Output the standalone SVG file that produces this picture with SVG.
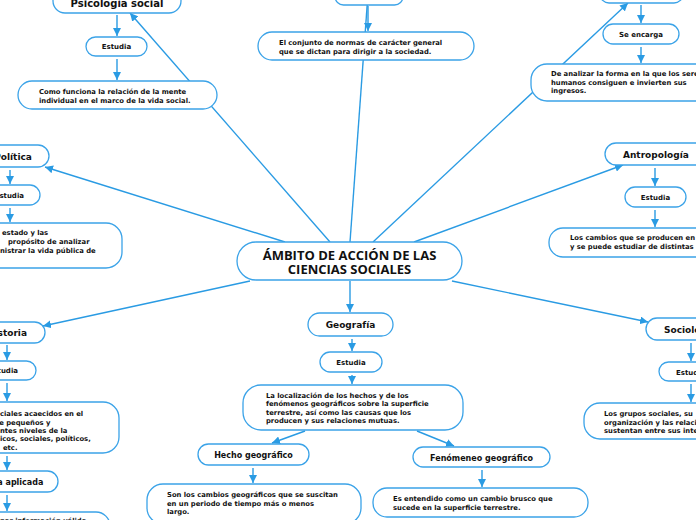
<svg xmlns="http://www.w3.org/2000/svg" width="696" height="520" viewBox="0 0 696 520">
<defs>
<marker id="ah" markerUnits="userSpaceOnUse" markerWidth="9" markerHeight="8" refX="8" refY="4" orient="auto">
<path d="M0,0 L8,4 L0,8 z" fill="#2a9be3"/>
</marker>
<style>
.c line{stroke:#2a9be3;stroke-width:1.4;marker-end:url(#ah)}
rect{fill:#fff;stroke:#3ba3e8;stroke-width:1.3}
text{font-family:"DejaVu Sans",Verdana,sans-serif;font-weight:bold;fill:#111}
.d{font-size:6.8px}
.n{font-size:9px}
.s{font-size:7px}
.h{font-size:8px}
.m{text-anchor:middle}
.t{font-family:"Open Sans","DejaVu Sans",sans-serif;font-size:13px;text-anchor:middle}
</style>
</defs>
<rect x="0" y="0" width="696" height="520" style="fill:#fff;stroke:none"/>
<g id="connectors" class="c">
<line x1="330" y1="242" x2="130" y2="13"/>
<line x1="350" y1="242" x2="369" y2="-20"/>
<line x1="373" y1="242" x2="628" y2="3"/>
<line x1="285" y1="242" x2="45" y2="167"/>
<line x1="414" y1="242" x2="623" y2="165"/>
<line x1="250" y1="281" x2="43" y2="326"/>
<line x1="452" y1="281" x2="648" y2="322"/>
<line x1="350" y1="281" x2="350" y2="312"/>
<line x1="117" y1="15" x2="117" y2="36"/>
<line x1="117" y1="59" x2="117" y2="80"/>
<line x1="368" y1="6" x2="368" y2="31"/>
<line x1="641" y1="5" x2="641" y2="23"/>
<line x1="641" y1="47" x2="641" y2="63"/>
<line x1="10" y1="170" x2="10" y2="184"/>
<line x1="10" y1="208" x2="10" y2="222"/>
<line x1="655" y1="168" x2="655" y2="186"/>
<line x1="655" y1="210" x2="655" y2="227"/>
<line x1="7" y1="345" x2="7" y2="360"/>
<line x1="7" y1="383" x2="7" y2="401"/>
<line x1="7" y1="456" x2="7" y2="470"/>
<line x1="7" y1="495" x2="7" y2="511"/>
<line x1="691" y1="343" x2="691" y2="361"/>
<line x1="691" y1="384" x2="691" y2="402"/>
<line x1="352" y1="339" x2="352" y2="351"/>
<line x1="352" y1="375" x2="352" y2="384"/>
<line x1="305" y1="431" x2="272" y2="443"/>
<line x1="417" y1="431" x2="454" y2="446"/>
<line x1="253" y1="468" x2="253" y2="483"/>
<line x1="482" y1="470" x2="482" y2="487"/>
</g>
<g id="center">
<rect x="237" y="242" width="225" height="38" rx="19"/>
<text class="t" x="349.5" y="259.5">ÁMBITO DE ACCIÓN DE LAS</text>
<text class="t" x="349.5" y="273.5">CIENCIAS SOCIALES</text>
</g>
<g id="psicologia">
<rect x="53" y="-14" width="128" height="27" rx="12"/>
<text class="n m" x="117" y="7" style="font-size:10px">Psicología social</text>
</g>
<g id="psicologia-estudia">
<rect x="86" y="37" width="61" height="19" rx="9.5"/>
<text class="s m" x="116.5" y="49">Estudia</text>
</g>
<g id="psicologia-desc">
<rect x="18" y="81" width="199" height="28" rx="14"/>
<text class="d" x="39" y="94">Como funciona la relación de la mente</text>
<text class="d" x="39" y="102.5">individual en el marco de la vida social.</text>
</g>
<g id="top-mid">
<rect x="335" y="-12" width="68" height="17" rx="8.5"/>
</g>
<g id="top-mid-desc">
<rect x="258" y="32" width="216" height="28" rx="14"/>
<text class="d" x="279" y="45">El conjunto de normas de carácter general</text>
<text class="d" x="279" y="54">que se dictan para dirigir a la sociedad.</text>
</g>
<g id="top-right">
<rect x="600" y="-15" width="83" height="18" rx="9"/>
</g>
<g id="top-right-encarga">
<rect x="603" y="24" width="76" height="20" rx="10"/>
<text class="s m" x="641" y="36.5">Se encarga</text>
</g>
<g id="top-right-desc">
<rect x="531" y="64" width="200" height="37" rx="16"/>
<text class="d" x="551" y="76">De analizar la forma en la que los seres</text>
<text class="d" x="551" y="84.5">humanos consiguen e invierten sus</text>
<text class="d" x="551" y="93">ingresos.</text>
</g>
<g id="politica">
<rect x="-60" y="145" width="109" height="22" rx="11"/>
<text class="n m" x="13" y="160">Política</text>
</g>
<g id="politica-estudia">
<rect x="-25" y="185" width="65" height="20" rx="10"/>
<text class="s m" x="9.3" y="197.5">Estudia</text>
</g>
<g id="politica-desc">
<rect x="-80" y="223" width="202" height="45" rx="16"/>
<text class="d" x="2" y="235">estado y las</text>
<text class="d" x="8" y="243.5">propósito de analizar</text>
<text class="d" x="0" y="252.5">nistrar la vida pública de</text>
</g>
<g id="antropologia">
<rect x="605" y="143" width="105" height="22" rx="11"/>
<text class="n" x="623" y="157.5">Antropología</text>
</g>
<g id="antropologia-estudia">
<rect x="625" y="187" width="61" height="20" rx="10"/>
<text class="s m" x="655.5" y="199.5">Estudia</text>
</g>
<g id="antropologia-desc">
<rect x="549" y="228" width="200" height="29" rx="14"/>
<text class="d" x="570" y="240">Los cambios que se producen en</text>
<text class="d" x="570" y="248.5">y se puede estudiar de distintas</text>
</g>
<g id="historia">
<rect x="-50" y="322" width="95" height="21" rx="10.5"/>
<text class="n m" x="7" y="336">Historia</text>
</g>
<g id="historia-estudia">
<rect x="-30" y="361" width="66" height="19" rx="9.5"/>
<text class="s m" x="3.3" y="373">Estudia</text>
</g>
<g id="historia-desc">
<rect x="-85" y="402" width="204" height="51" rx="16"/>
<text class="d" x="0" y="416">ciales acaecidos en el</text>
<text class="d" x="-5.6" y="424.5">de pequeños y</text>
<text class="d" x="0" y="432.5">ntes niveles de la</text>
<text class="d" x="0" y="441">icos, sociales, políticos,</text>
<text class="d" x="3" y="449.5">etc.</text>
</g>
<g id="historia-aplicada">
<rect x="-70" y="471" width="128" height="21" rx="10.5"/>
<text class="h" x="-2.7" y="485">a aplicada</text>
</g>
<g id="historia-aplicada-desc">
<rect x="-90" y="512" width="200" height="30" rx="14"/>
<text class="d" x="0" y="523">nar información válida</text>
</g>
<g id="sociologia">
<rect x="646" y="318" width="80" height="22" rx="11"/>
<text class="n" x="664" y="333">Sociología</text>
</g>
<g id="sociologia-estudia">
<rect x="659" y="362" width="60" height="19" rx="9.5"/>
<text class="s" x="676" y="374.5">Estudia</text>
</g>
<g id="sociologia-desc">
<rect x="584" y="403" width="200" height="36" rx="16"/>
<text class="d" x="604" y="416">Los grupos sociales, su</text>
<text class="d" x="604" y="424.5">organización y las relaciones que</text>
<text class="d" x="604" y="433">sustentan entre sus integrantes.</text>
</g>
<g id="geografia">
<rect x="308" y="313" width="85" height="23" rx="11.5"/>
<text class="n m" x="350.5" y="328">Geografía</text>
</g>
<g id="geografia-estudia">
<rect x="320" y="352" width="62" height="20" rx="10"/>
<text class="s m" x="351" y="364.5">Estudia</text>
</g>
<g id="geografia-desc">
<rect x="243" y="385" width="220" height="45" rx="18"/>
<text class="d" x="266" y="397.5">La localización de los hechos y de los</text>
<text class="d" x="266" y="406">fenómenos geográficos sobre la superficie</text>
<text class="d" x="266" y="414.5">terrestre, así como las causas que los</text>
<text class="d" x="266" y="423">producen y sus relaciones mutuas.</text>
</g>
<g id="hecho">
<rect x="198" y="444" width="111" height="21" rx="10.5"/>
<text class="h m" x="253.5" y="457.5">Hecho geográfico</text>
</g>
<g id="hecho-desc">
<rect x="147" y="484" width="214" height="40" rx="16"/>
<text class="d" x="167" y="496.5">Son los cambios geográficos que se suscitan</text>
<text class="d" x="167" y="505.5">en un  periodo de tiempo más o menos</text>
<text class="d" x="167" y="514">largo.</text>
</g>
<g id="fenomeno">
<rect x="413" y="447" width="137" height="20" rx="10"/>
<text class="h m" x="481.5" y="460.5">Fenómeneo geográfico</text>
</g>
<g id="fenomeno-desc">
<rect x="373" y="488" width="215" height="29" rx="14"/>
<text class="d" x="393" y="501">Es entendido como un cambio brusco que</text>
<text class="d" x="393" y="509.5">sucede en la superficie terrestre.</text>
</g>
</svg>
